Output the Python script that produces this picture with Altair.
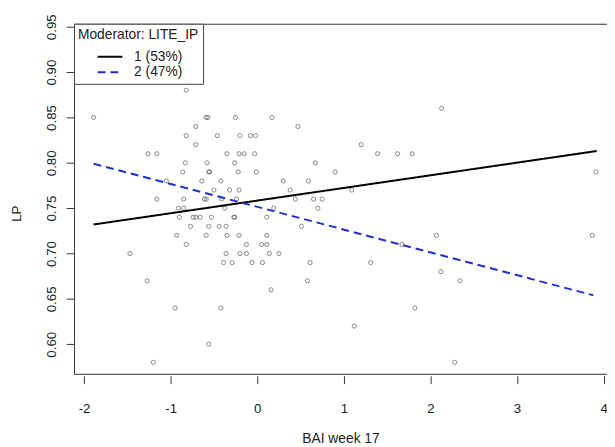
import altair as alt
import pandas as pd

# ---- scatter data (BAI week 17 vs LP) ----
bai = [
    -0.82,
    2.13,
    -1.89, -0.59, -0.57, -0.25, 0.17,
    -0.71, 0.47,
    -0.82, -0.46, -0.20, -0.08, -0.02,
    -0.71, 1.20,
    -1.26, -1.16, -0.35, -0.21, -0.15, -0.03, 1.39, 1.62, 1.79,
    -0.83, -0.58, -0.26, 0.67,
    -0.86, -0.56, -0.55, -0.22, -0.01, 0.90, 3.91,
    -1.05, -0.64, -0.42, 0.30, 0.59,
    -0.50, -0.32, -0.21, 0.38, 1.09,
    -1.16, -0.85, -0.61, -0.59, -0.41, -0.24, 0.44, 0.65, 0.75,
    -0.91, -0.85, -0.375, 0.19, 0.70,
    -0.90, -0.74, -0.71, -0.66, -0.53, -0.27, -0.26, 0.11,
    -0.77, -0.56, -0.44, -0.36, 0.51,
    -0.93, -0.59, -0.35, -0.21, 0.11, 2.07, 3.87,
    -0.82, -0.125, 0.05, 0.11, 1.67,
    -1.47, -0.36, -0.20, -0.125, 0.14, 0.25,
    -0.39, -0.29, -0.06, 0.06, 0.61, 1.31,
    2.12,
    -1.27, 0.58, 2.34,
    0.16,
    -0.95, -0.42, 1.82,
    1.12,
    -0.56,
    -1.20, 2.28,
]
lp = (
    [0.88]
    + [0.86]
    + [0.85] * 5
    + [0.84] * 2
    + [0.83] * 5
    + [0.82] * 2
    + [0.81] * 9
    + [0.80] * 4
    + [0.79] * 7
    + [0.78] * 5
    + [0.77] * 5
    + [0.76] * 9
    + [0.75] * 5
    + [0.74] * 8
    + [0.73] * 5
    + [0.72] * 7
    + [0.71] * 5
    + [0.70] * 6
    + [0.69] * 6
    + [0.68] * 1
    + [0.67] * 3
    + [0.66] * 1
    + [0.64] * 3
    + [0.62] * 1
    + [0.60] * 1
    + [0.58] * 2
)

# ---- moderator regression lines (endpoints) ----
groups = ["1 (53%)", "2 (47%)"]
line_group = ["1 (53%)", "1 (53%)", "2 (47%)", "2 (47%)"]
line_x = [-1.89, 3.92, -1.89, 3.88]
line_y = [0.732, 0.813, 0.799, 0.654]

x_ticks = [-2, -1, 0, 1, 2, 3, 4]
y_ticks = [0.60, 0.65, 0.70, 0.75, 0.80, 0.85, 0.90, 0.95]

pts = pd.DataFrame({"BAI": bai, "LP": lp})
lines = pd.DataFrame({"group": line_group, "BAI": line_x, "LP": line_y})

FONT = "Liberation Sans"
xscale = alt.Scale(domain=[-2.116, 4.039], nice=False, zero=False)
yscale = alt.Scale(domain=[0.5674, 0.9533], nice=False, zero=False)

x_axis = alt.Axis(
    values=x_ticks, labelExpr="datum.value + ''", tickSize=8, offset=2,
    labelPadding=18, domain=False, grid=False, title="BAI week 17",
    titlePadding=17, labelFontSize=13.5, titleFontSize=14,
    titleFontWeight="normal", labelColor="#222", titleColor="#222",
    tickColor="#333",
)
y_axis = alt.Axis(
    values=y_ticks, format=".2f", labelAngle=270, labelAlign="center",
    labelBaseline="bottom", tickSize=8, labelPadding=8, domain=False,
    grid=False, title="LP", titleAngle=270, titleAlign="center",
    titleBaseline="alphabetic", titleX=-54.5, titleY=192.3,
    labelFontSize=13.5, titleFontSize=13.5, titleFontWeight="normal",
    labelColor="#222", titleColor="#222", tickColor="#333",
)

points = alt.Chart(pts).mark_point(
    shape="circle", filled=False, size=18, strokeWidth=0.9, color="#444"
).encode(
    x=alt.X("BAI:Q", scale=xscale, axis=x_axis),
    y=alt.Y("LP:Q", scale=yscale, axis=y_axis),
)

legend = alt.Legend(
    title="Moderator: LITE_IP", orient="none", legendX=0, legendY=0,
    direction="vertical", symbolType="stroke", symbolSize=625,
    clipHeight=13, symbolStrokeWidth=2, padding=4, symbolOffset=19,
    labelOffset=11, titlePadding=9, rowPadding=0.7, strokeColor="#444",
    fillColor="white", titleFont=FONT, labelFont=FONT, titleFontSize=14,
    labelFontSize=14, titleFontWeight="normal", titleColor="#222",
    labelColor="#222",
)

reg = alt.Chart(lines).mark_line(strokeWidth=2).encode(
    x=alt.X("BAI:Q", scale=xscale),
    y=alt.Y("LP:Q", scale=yscale),
    color=alt.Color("group:N", scale=alt.Scale(domain=groups, range=["#000000", "#1f2fd0"]), legend=legend),
    strokeDash=alt.StrokeDash("group:N", scale=alt.Scale(domain=groups, range=[[1, 0], [8, 5]]), legend=legend),
)

chart = alt.layer(points, reg).properties(
    width=541, height=355.3,
    autosize=alt.AutoSizeParams(type="none"),
    padding={"left": 67, "top": 12.7, "right": 0, "bottom": 70},
).configure(font=FONT).configure_view(stroke="#333", strokeWidth=1)

chart.save("out.html", embed_options={"renderer": "svg", "actions": False})
